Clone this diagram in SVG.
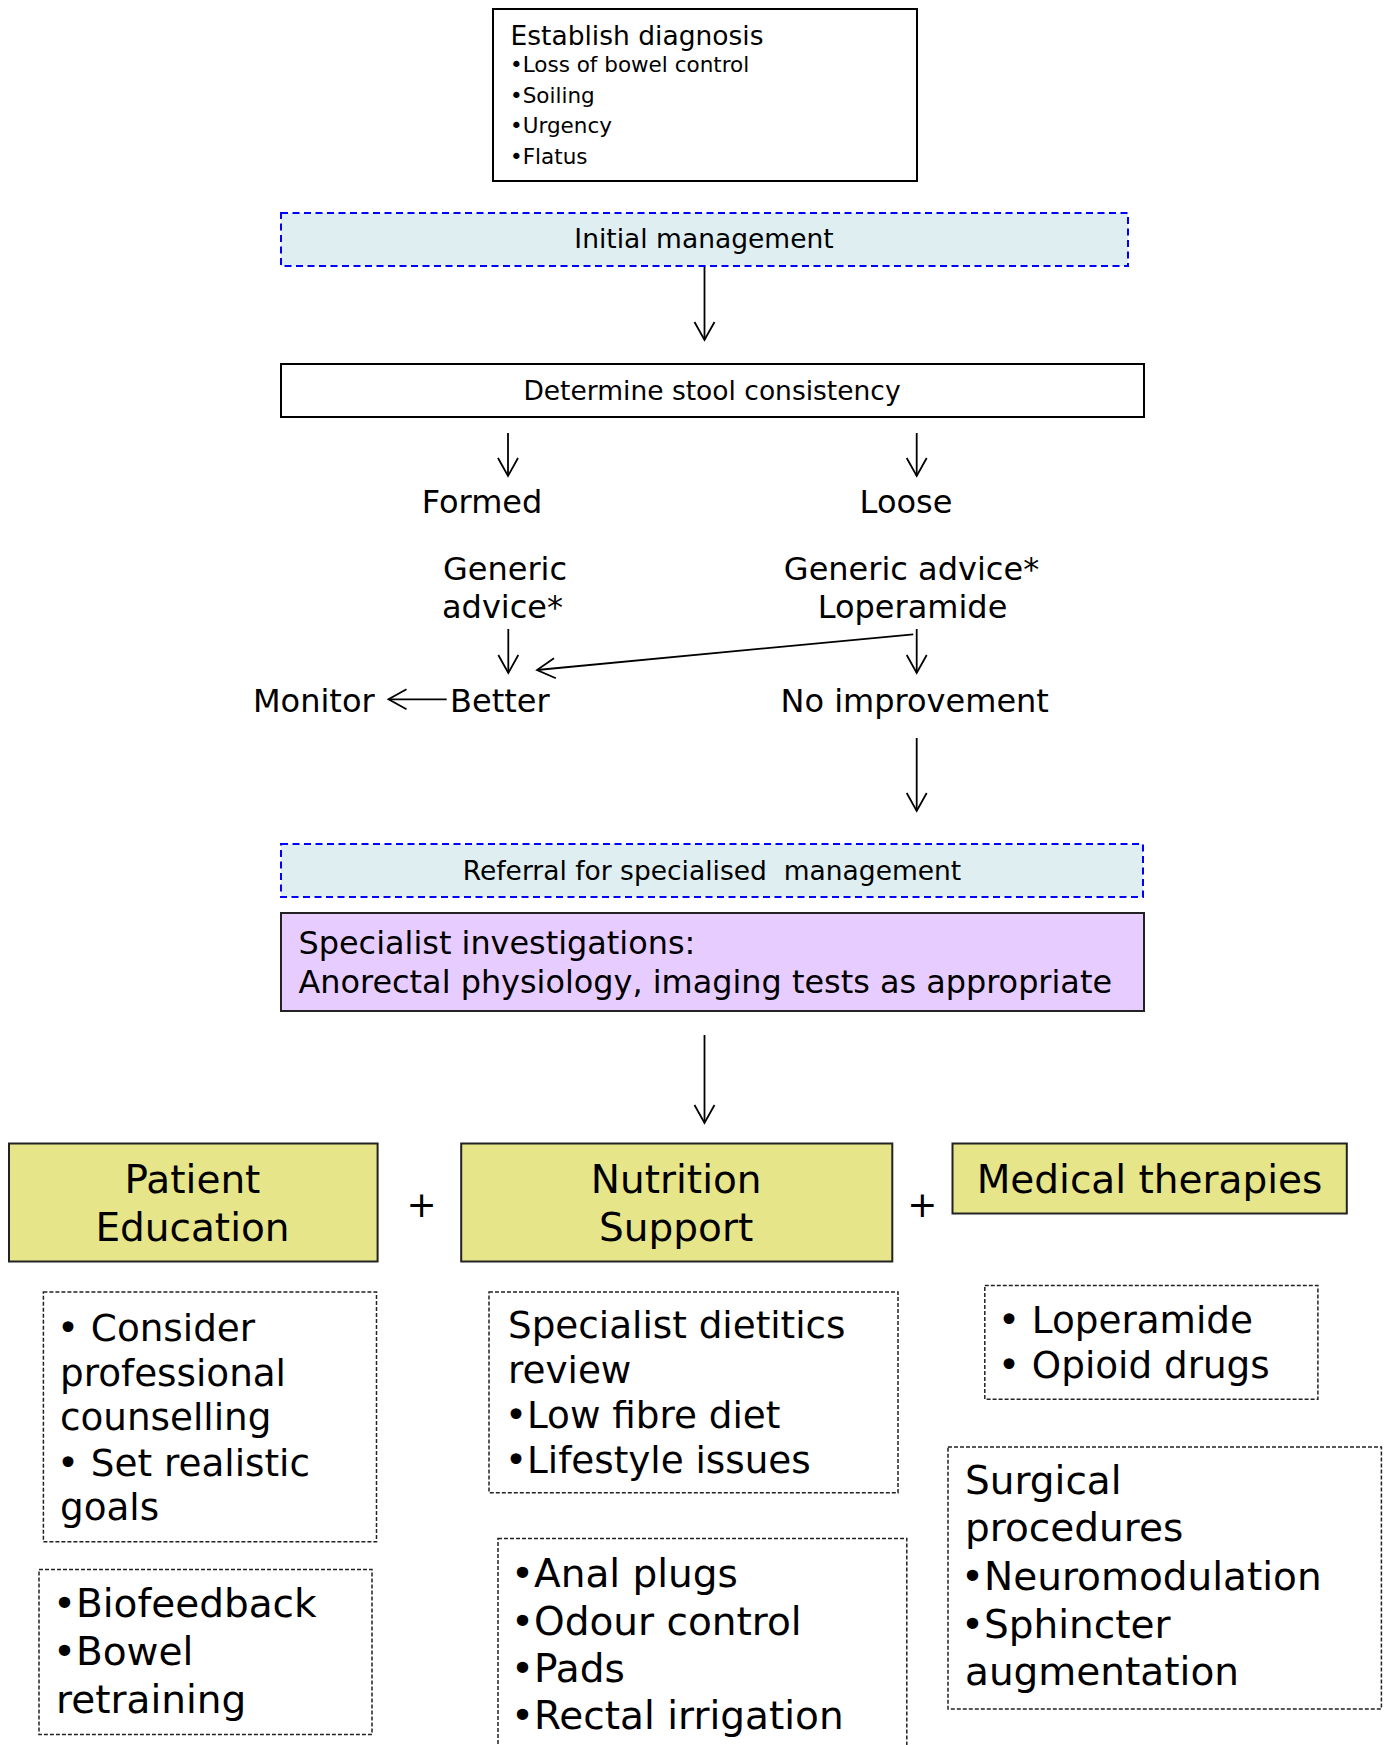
<svg xmlns="http://www.w3.org/2000/svg" width="1388" height="1745" viewBox="0 0 1388 1745">
<style>
text{font-family:"DejaVu Sans","Verdana",sans-serif;fill:#000}
.solid{fill:#fff;stroke:#000;stroke-width:2}
.blue{fill:#DEEEF1;stroke:#0000FF;stroke-width:2;stroke-dasharray:7 4.5}
.purple{fill:#E6CCFF;stroke:#222;stroke-width:2}
.yellow{fill:#E6E589;stroke:#222;stroke-width:2}
.dash{fill:#fff;stroke:#222;stroke-width:1.5;stroke-dasharray:4 2}
.arr{fill:none;stroke:#000;stroke-width:1.8;marker-end:url(#ah)}
.f21{font-size:21.5px}.f26{font-size:26.5px}.f32{font-size:32px}.f319{font-size:31.9px}.f37{font-size:37.3px}.f39{font-size:39px}
.mid{text-anchor:middle}
</style>
<defs>
<marker id="ah" markerUnits="userSpaceOnUse" markerWidth="30" markerHeight="30" refX="20" refY="12" orient="auto" overflow="visible">
<path d="M2,2 L20,12 L2,22" fill="none" stroke="#000" stroke-width="1.8"/>
</marker>
</defs>
<rect width="1388" height="1745" fill="#fff"/>

<g id="connectors">
<line class="arr" x1="704.5" y1="266" x2="704.5" y2="340"/>
<line class="arr" x1="508" y1="433" x2="508" y2="476"/>
<line class="arr" x1="916.7" y1="433" x2="916.7" y2="476"/>
<line class="arr" x1="508.3" y1="629" x2="508.3" y2="673"/>
<line class="arr" x1="916.7" y1="629" x2="916.7" y2="673"/>
<line class="arr" x1="913.3" y1="634.3" x2="537" y2="670"/>
<line class="arr" x1="446.7" y1="699.3" x2="388.5" y2="699.3"/>
<line class="arr" x1="916.7" y1="738" x2="916.7" y2="811"/>
<line class="arr" x1="704.5" y1="1035" x2="704.5" y2="1123"/>
</g>

<g id="establish-diagnosis">
<rect class="solid" x="493" y="9" width="424" height="172"/>
<text class="f26" x="510.5" y="45">Establish diagnosis</text>
<text class="f21" x="510" y="72">•Loss of bowel control</text>
<text class="f21" x="510" y="102.7">•Soiling</text>
<text class="f21" x="510" y="133.3">•Urgency</text>
<text class="f21" x="510" y="164.3">•Flatus</text>
</g>

<g id="initial-management">
<rect class="blue" x="281" y="213" width="847" height="53"/>
<text class="f26 mid" x="704" y="248">Initial management</text>
</g>

<g id="determine-stool">
<rect class="solid" x="281" y="364" width="863" height="53"/>
<text class="f26 mid" x="712" y="400">Determine stool consistency</text>
</g>

<g id="formed"><text class="f32 mid" x="482" y="512.7">Formed</text></g>
<g id="loose"><text class="f32 mid" x="906" y="512.7">Loose</text></g>

<g id="generic-left">
<text class="f32" x="443" y="580">Generic</text>
<text class="f32" x="442" y="617.5">advice*</text>
</g>

<g id="generic-right">
<text class="f32 mid" x="911.5" y="580">Generic advice*</text>
<text class="f32 mid" x="912.5" y="618">Loperamide</text>
</g>

<g id="monitor"><text class="f32" x="253" y="711.7">Monitor</text></g>
<g id="better"><text class="f32" x="450" y="711.7">Better</text></g>
<g id="no-improvement"><text class="f32 mid" x="914.7" y="711.7">No improvement</text></g>

<g id="referral">
<rect class="blue" x="281" y="844" width="862" height="53"/>
<text class="f26 mid" x="712" y="880" xml:space="preserve">Referral for specialised  management</text>
</g>

<g id="specialist-investigations">
<rect class="purple" x="281" y="913" width="863" height="98"/>
<text class="f319" x="298.5" y="954">Specialist investigations:</text>
<text class="f319" x="298.5" y="992.7">Anorectal physiology, imaging tests as appropriate</text>
</g>

<g id="patient-education">
<rect class="yellow" x="9" y="1143.5" width="368.6" height="118"/>
<text class="f39 mid" x="192.5" y="1193">Patient</text>
<text class="f39 mid" x="192.5" y="1241">Education</text>
</g>

<g id="plus-1"><text class="mid" style="font-size:36px" x="421.5" y="1216.5">+</text></g>

<g id="nutrition-support">
<rect class="yellow" x="461.2" y="1143.5" width="431.1" height="118"/>
<text class="f39 mid" x="676.2" y="1193">Nutrition</text>
<text class="f39 mid" x="676.2" y="1241">Support</text>
</g>

<g id="plus-2"><text class="mid" style="font-size:36px" x="922.4" y="1216.5">+</text></g>

<g id="medical-therapies">
<rect class="yellow" x="952.5" y="1143.5" width="394.3" height="70"/>
<text class="f39 mid" x="1149.5" y="1193">Medical therapies</text>
</g>

<g id="education-counselling">
<rect class="dash" x="43.4" y="1292" width="333.1" height="249.8"/>
<text class="f37" x="57" y="1340.5">• Consider</text>
<text class="f37" x="60" y="1385.5">professional</text>
<text class="f37" x="60" y="1430">counselling</text>
<text class="f37" x="57" y="1475.5">• Set realistic</text>
<text class="f37" x="60" y="1520">goals</text>
</g>

<g id="education-biofeedback">
<rect class="dash" x="39" y="1569.6" width="333" height="164.9"/>
<text class="f39" x="53" y="1617">•Biofeedback</text>
<text class="f39" x="53" y="1664.5">•Bowel</text>
<text class="f39" x="56" y="1712.5">retraining</text>
</g>

<g id="nutrition-dietetics">
<rect class="dash" x="489" y="1292" width="409" height="200.8"/>
<text class="f37" x="508" y="1337.5">Specialist dietitics</text>
<text class="f37" x="508" y="1382.7">review</text>
<text class="f37" x="505" y="1428">•Low fibre diet</text>
<text class="f37" x="505" y="1473">•Lifestyle issues</text>
</g>

<g id="nutrition-products">
<rect class="dash" x="498" y="1538.4" width="408.8" height="240"/>
<text class="f39" x="511" y="1587">•Anal plugs</text>
<text class="f39" x="511" y="1634.6">•Odour control</text>
<text class="f39" x="511" y="1682">•Pads</text>
<text class="f39" x="511" y="1729">•Rectal irrigation</text>
</g>

<g id="medical-drugs">
<rect class="dash" x="984.8" y="1285.6" width="333.1" height="113.6"/>
<text class="f37" x="998" y="1333">• Loperamide</text>
<text class="f37" x="998" y="1378">• Opioid drugs</text>
</g>

<g id="surgical">
<rect class="dash" x="948" y="1447" width="433.4" height="262"/>
<text class="f39" x="965" y="1494">Surgical</text>
<text class="f39" x="965" y="1541">procedures</text>
<text class="f39" x="961" y="1590">•Neuromodulation</text>
<text class="f39" x="961" y="1637.5">•Sphincter</text>
<text class="f39" x="965" y="1685">augmentation</text>
</g>
</svg>
